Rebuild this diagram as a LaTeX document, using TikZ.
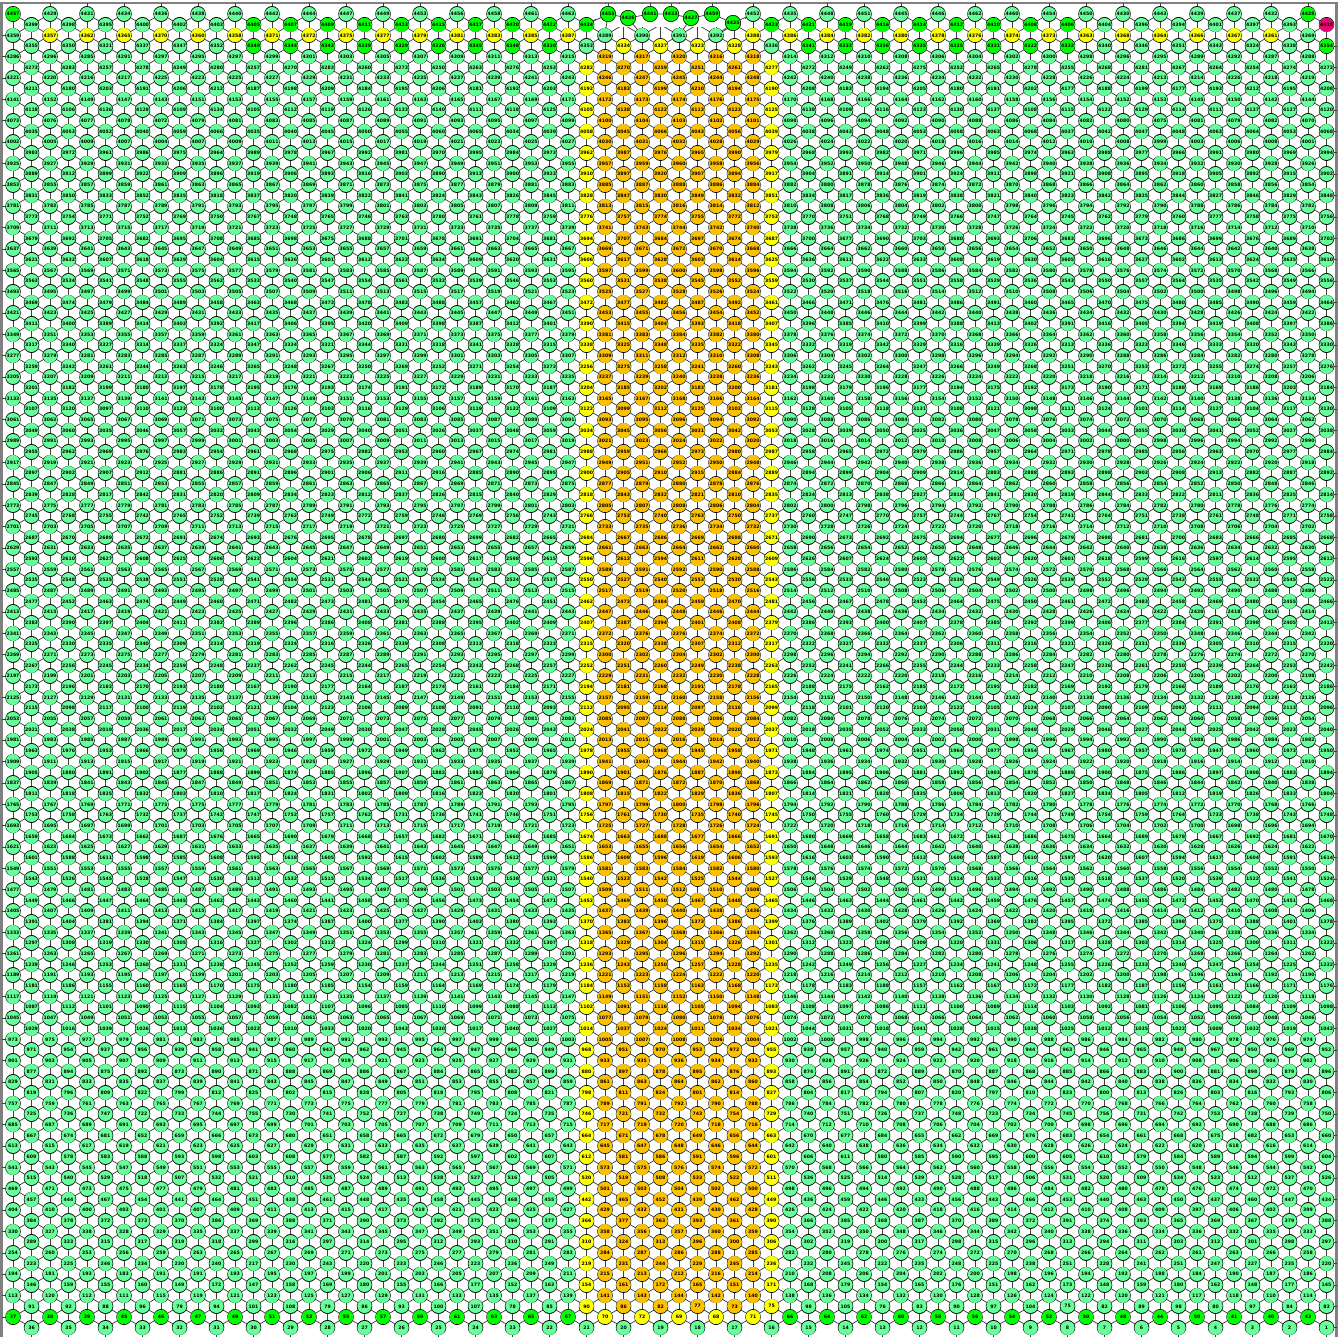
\documentclass[tikz,border=0pt]{standalone}
\usepackage{fontspec}
\newfontfamily\labfont{DejaVu Sans}
\definecolor{mint}{RGB}{102,255,153}
\definecolor{lime}{RGB}{0,255,0}
\definecolor{yel}{RGB}{255,255,0}
\definecolor{org}{RGB}{255,192,0}
\definecolor{mag}{RGB}{240,0,120}
\definecolor{framegray}{RGB}{128,128,128}
\newcommand\RL[3]{\foreach \v [count=\c from 0] in {#3}{\pgfmathtruncatemacro\kk{#2+2*\c}\expandafter\xdef\csname lb@\kk @#1\endcsname{\v}}}
% ---- labels (half-row h, first column k, step 2)
\RL{123}{0}{4457,4429,4431,4434,4436,4438,4440,4442,4444,4447,4449,4453,4456,4458,4461,4463}
\RL{123}{40}{4452,4435,4448,4451,4445,4446,4462,4460,4454,4450,4430,4443,4439,4437,4432,4428}
\RL{122}{1}{4399,4398,4395,4400,4402,4403,4405,4407,4409,4411,4413,4415,4417,4420,4422,4424}
\RL{122}{41}{4423,4421,4419,4416,4414,4412,4410,4408,4406,4404,4396,4394,4401,4397,4393,4418}
\RL{121}{0}{4359,4357,4362,4365,4370,4360,4358,4371,4372,4375,4377,4379,4381,4383,4385,4387,4389,4390,4391,4392,4388,4386,4384,4382,4380,4378,4376,4374,4373,4363,4368,4364,4366,4367,4361,4369}
\RL{120}{1}{4355,4350,4321,4337,4347,4352,4349,4344,4342,4339,4329,4326,4345,4348,4330,4353,4334,4327,4323,4328,4336,4341,4333,4356,4335,4325,4331,4322,4332,4340,4346,4351,4343,4324,4338,4354}
\RL{119}{0}{4286,4296,4285,4291,4297}
\RL{118}{1}{4273,4283,4257,4278,4249}
\RL{117}{0}{4221,4220,4216,4217,4225}
\RL{116}{1}{4211,4180,4203,4191,4206}
\RL{115}{0}{4141,4152,4149,4147,4143}
\RL{114}{1}{4118,4106,4136,4129,4109}
\RL{113}{0}{4073,4076,4077,4078,4072}
\RL{112}{1}{4035,4053,4052,4040,4059}
\RL{111}{0}{4002,4005,4009,4007,4004}
\RL{119}{30}{4315,4319,4317,4320,4316,4318,4314}
\RL{118}{31}{4282,4270,4259,4251,4261,4277}
\RL{117}{30}{4243,4246,4247,4245,4244,4248,4242}
\RL{116}{31}{4192,4183,4199,4210,4194,4190}
\RL{115}{30}{4171,4172,4173,4174,4176,4175,4170}
\RL{114}{31}{4105,4138,4122,4113,4123,4125}
\RL{113}{30}{4099,4100,4104,4103,4102,4101,4098}
\RL{112}{31}{4058,4045,4066,4043,4056,4039}
\RL{111}{30}{4027,4030,4031,4032,4028,4029,4026}
\RL{119}{62}{4295,4289,4292,4287,4288}
\RL{118}{63}{4267,4264,4254,4274,4272}
\RL{117}{62}{4213,4214,4226,4218,4219}
\RL{116}{63}{4177,4193,4212,4195,4208}
\RL{115}{62}{4153,4145,4150,4142,4144}
\RL{114}{63}{4114,4111,4137,4127,4120}
\RL{113}{62}{4075,4081,4079,4082,4070}
\RL{112}{63}{4048,4063,4064,4053,4068}
\RL{111}{62}{3999,4003,4006,4008,4001}
\RL{11}{0}{404,410,400,403,401}
\RL{10}{1}{384,378,372,373,370}
\RL{9}{0}{330,327,338,328,329}
\RL{8}{1}{289,323,315,317,319}
\RL{7}{0}{254,260,253,256,259}
\RL{6}{1}{223,225,246,234,230}
\RL{5}{0}{194,181,193,183,191}
\RL{4}{1}{146,159,155,160,149}
\RL{3}{0}{113,120,112,111,115}
\RL{2}{1}{91,92,88,96,79}
\RL{1}{0}{37,38,39,45,46}
\RL{11}{30}{427,429,432,431,430,428,426}
\RL{10}{31}{366,377,363,393,361,390}
\RL{9}{30}{355,358,356,357,360,359,354}
\RL{8}{31}{310,324,313,296,300,306}
\RL{7}{30}{283,284,287,286,288,285,282}
\RL{6}{31}{219,231,244,229,245,236}
\RL{5}{30}{211,215,213,212,216,214,210}
\RL{4}{31}{154,161,172,165,151,171}
\RL{3}{30}{139,141,143,144,142,140,138}
\RL{2}{31}{90,86,82,77,73,75}
\RL{1}{30}{67,70,72,69,68,71,66}
\RL{11}{62}{409,397,406,402,399}
\RL{10}{63}{365,369,367,379,388}
\RL{9}{62}{334,336,332,335,333}
\RL{8}{63}{303,312,301,298,297}
\RL{7}{62}{262,261,263,266,258}
\RL{6}{63}{251,247,227,235,220}
\RL{5}{62}{188,184,190,187,186}
\RL{4}{63}{180,162,148,177,145}
\RL{3}{62}{121,117,118,110,114}
\RL{2}{63}{98,80,97,84,83}
\RL{1}{62}{44,50,41,40,43}
\RL{67}{16}{2429,2431,2433}
\RL{67}{30}{2443,2447,2446}
\RL{68}{17}{2473,2481}
\RL{66}{17}{2386,2408}
\RL{66}{31}{2407,2387}
\RL{65}{16}{2357,2359,2361}
\RL{65}{30}{2371,2372,2376}
\RL{64}{17}{2316,2326}
\RL{64}{31}{2315,2320}
\RL{63}{16}{2285,2287,2289}
\RL{63}{30}{2299,2300,2302}
\RL{62}{17}{2245,2244}
\RL{62}{31}{2252,2251}
\RL{61}{16}{2213,2215,2217}
\RL{61}{30}{2227,2229,2231}
\begin{document}
\begin{tikzpicture}[x=0.75pt,y=-0.75pt,
  nd/.style={circle,draw=black,line width=0.45pt,minimum size=11.6pt,inner sep=0pt,
    font=\labfont\bfseries\fontsize{3.5}{4}\selectfont,text=black},
  dotb/.style={draw=black,line width=11.6pt,line cap=round},
  dotf/.style={line width=10.7pt,line cap=round},
  lk/.style={draw=black!75,line width=0.55pt},
  frame/.style={draw=framegray,line width=1.6pt}]
\useasboundingbox (0,0) rectangle (1344,1337);
\fill[white] (0,0) rectangle (1344,1337);
\draw[frame] (1.5,1337) -- (1.5,3) -- (1336.5,3) -- (1336.5,1337);
% ---- lattice links: columns
\foreach \k in {2,4,...,70}{\draw[lk] ({13+18.5*\k},3) -- ({13+18.5*\k},1317);}
\draw[lk] (13,14) -- (13,1317);
\foreach \k in {1,3,...,71}{\draw[lk] ({13+18.5*\k},24.68) -- ({13+18.5*\k},1337);}
% ---- lattice links: diagonals
\begin{scope}
\clip (13,14) rectangle (1326.5,1327.8);
\foreach \c in {-74,-72,...,124}{\draw[lk] (-24,{14+10.68*(\c-2)}) -- (1363.5,{14+10.68*(\c+73)});}
\foreach \s in {0,2,...,198}{\draw[lk] (-24,{14+10.68*(\s+2)}) -- (1363.5,{14+10.68*(\s-73)});}
\end{scope}
% ---- wrap-around stubs to the frame
\foreach \i in {1,...,61}{\draw[lk] (1.5,{14+21.36*\i}) -- (13,{14+21.36*\i});}
\foreach \i in {1,...,61}{\draw[lk] (1326.5,{24.68+21.36*\i}) -- (1336.5,{24.68+21.36*\i});}
% ---- the gap at the top centre
\fill[white] (596,4.3) rectangle (745,27.4);
% ---- displaced top nodes
\coordinate (c31) at (586.5,24.68);
\coordinate (c40) at (753,14);
\coordinate (c32) at (605,35.36);
\coordinate (c34) at (642,35.36);
\coordinate (c36) at (679,35.36);
\coordinate (c38) at (716,35.36);
\coordinate (ft) at (0,3);
\node[nd,fill=lime] (s1) at (608,14) {4455};
\node[nd,fill=lime] (s2) at (628,18) {4426};
\node[nd,fill=lime] (s3) at (650,14) {4441};
\node[nd,fill=lime] (s4) at (671,14) {4433};
\node[nd,fill=lime] (s5) at (691,18) {4427};
\node[nd,fill=lime] (s6) at (712,14) {4459};
\node[nd,fill=lime] (s7) at (733,23) {4425};
\draw[lk] (c31) -- (s1) -- (s2) -- (s3) -- (s4) -- (s5) -- (s6) -- (s7) -- (c40);
\draw[lk] (s1) -- (c32);
\draw[lk] (s2) -- (c34);
\draw[lk] (s5) -- (c36);
\draw[lk] (s7) -- (c38);
\foreach \s in {s1,s3,s4,s6}{\draw[lk] (\s) -- (\s |- ft);}
% ---- lattice discs: outline + mint
\foreach \k in {0,...,71}{
  \pgfmathsetmacro\X{13+18.5*\k}
  \pgfmathtruncatemacro\od{mod(\k,2)}
  \pgfmathsetmacro\Yo{14+10.68*\od}
  \pgfmathtruncatemacro\ist{(\k>31)&&(\k<40)}
  \draw[dotb] \foreach \i in {\ist,...,61}{(\X,{\Yo+21.36*\i}) -- ++(0.02,0)};
  \draw[dotf,draw=mint] \foreach \i in {\ist,...,61}{(\X,{\Yo+21.36*\i}) -- ++(0.02,0)};
}
% ---- orange band
\foreach \k in {32,...,40}{
  \pgfmathsetmacro\X{13+18.5*\k}
  \pgfmathtruncatemacro\od{mod(\k,2)}
  \pgfmathsetmacro\Yo{14+10.68*\od}
  \draw[dotf,draw=org] \foreach \i in {2,...,60}{(\X,{\Yo+21.36*\i}) -- ++(0.02,0)};
}
% ---- yellow
\foreach \k in {31,41}{
  \draw[dotf,draw=yel] \foreach \i in {2,...,60}{({13+18.5*\k},{24.68+21.36*\i}) -- ++(0.02,0)};
}
\draw[dotf,draw=yel] \foreach \k in {32,34,...,40}{({13+18.5*\k},1316.96) -- ++(0.02,0)};
\draw[dotf,draw=yel] \foreach \k in {33,35,...,39}{({13+18.5*\k},46.04) -- ++(0.02,0)};
\draw[dotf,draw=yel] \foreach \k in {2,4,...,30,40,42,...,68}{({13+18.5*\k},35.36) -- ++(0.02,0)};
% ---- bright green and magenta
\draw[dotf,draw=lime] \foreach \k in {0,2,...,30,42,44,...,70}{({13+18.5*\k},1316.96) -- ++(0.02,0)};
\draw[dotf,draw=lime] \foreach \k in {13,15,...,31,41,43,...,57}{({13+18.5*\k},24.68) -- ++(0.02,0)};
\draw[dotf,draw=lime] \foreach \k in {13,15,...,29,43,45,...,57,71}{({13+18.5*\k},46.04) -- ++(0.02,0)};
\draw[dotf,draw=lime] \foreach \k in {0,70}{({13+18.5*\k},14) -- ++(0.02,0)};
\draw[dotf,draw=mag] (1326.5,24.68) -- ++(0.02,0);
% ---- lattice labels
\pgftext[left,top]{\vbox to 0pt{\offinterlineskip\labfont\bfseries\fontsize{3.5}{4}\selectfont
  \foreach \k in {0,...,71}{%
    \pgfmathtruncatemacro\od{mod(\k,2)}%
    \pgfmathtruncatemacro\jj{(\k-\od)/2}%
    \pgfmathsetmacro\Xp{0.75*(13+18.5*\k)}%
    \pgfmathtruncatemacro\ist{(\k>31)&&(\k<40)}%
    \foreach \i in {\ist,...,61}{%
      \pgfmathtruncatemacro\h{123-2*\i-\od}%
      \pgfmathsetmacro\Yp{0.75*(14+21.36*\i+10.68*\od)-1.28}%
      \ifcsname lb@\k @\h\endcsname
        \edef\lab{\csname lb@\k @\h\endcsname}%
      \else
        \ifnum\od=0
          \ifnum\k<35 \pgfmathtruncatemacro\lab{36*\h+1+\k}\else\pgfmathtruncatemacro\lab{36*\h+1+71-\k}\fi
        \else
          \ifnum\h=0 \pgfmathtruncatemacro\lab{36-\jj}\else
            \pgfmathtruncatemacro\hq{mod(\h/2,8)}%
            \ifcase\hq \def\aa{5}\or\def\aa{7}\or\def\aa{11}\or\def\aa{13}\or\def\aa{17}\or\def\aa{19}\or\def\aa{23}\or\def\aa{25}\fi
            \pgfmathtruncatemacro\lab{36*\h+1+mod(\aa*\jj+11*\h,36)}%
          \fi
        \fi
      \fi
      \moveright\Xp pt\vbox to 0pt{\kern\Yp pt\hbox to 0pt{\hss\lab\hss}\vss}%
    }%
  }%
  \vss}}
\end{tikzpicture}
\end{document}
